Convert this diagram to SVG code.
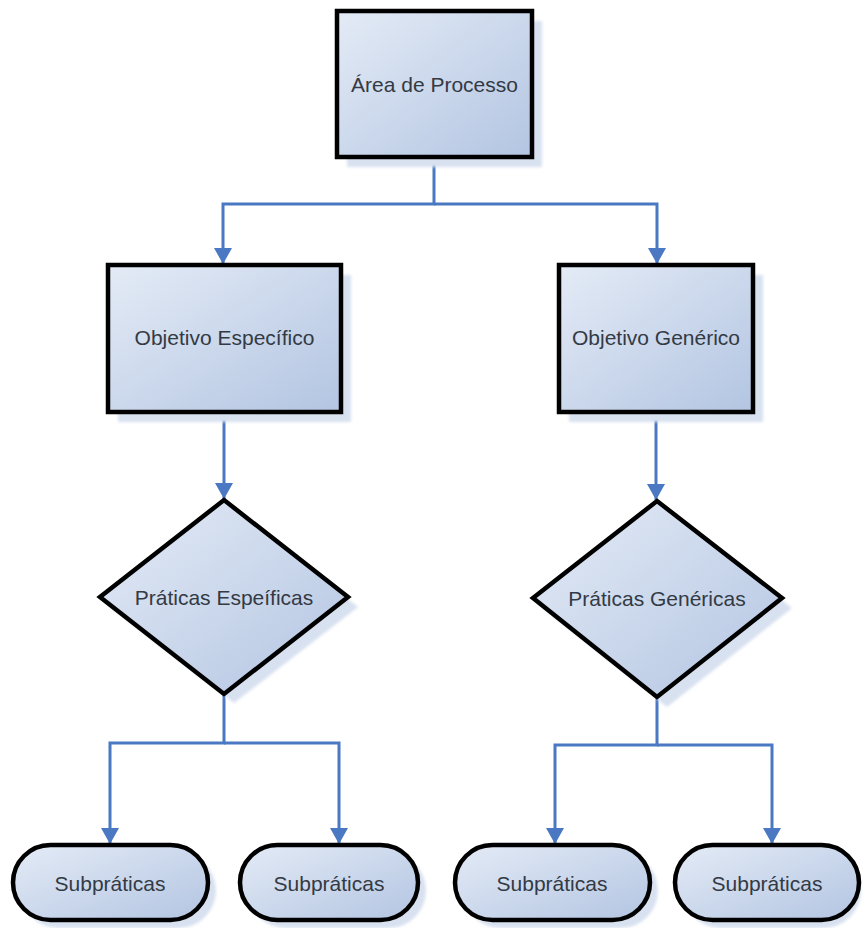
<svg xmlns="http://www.w3.org/2000/svg" width="863" height="928" viewBox="0 0 863 928">
  <style>
    .shadow { fill: #d8e1f0; stroke: none; filter: url(#soft); }
    .shape { fill: url(#fillGrad); stroke: #000; stroke-width: 4.5; stroke-linejoin: miter; }
    .pill { fill: url(#fillGrad); stroke: #000; stroke-width: 4.5; }
    .label { font-family: "Liberation Sans", Arial, sans-serif; font-size: 21px; fill: #333a44; text-anchor: middle; dominant-baseline: central; }
    .conn { fill: none; stroke: #4a78c2; stroke-width: 3; stroke-linejoin: miter; marker-end: url(#arrow); }
  </style>
  <defs>
    <linearGradient id="fillGrad" x1="0" y1="0" x2="1" y2="1">
      <stop offset="0" stop-color="#e4ebf6"/>
      <stop offset="1" stop-color="#b3c5e2"/>
    </linearGradient>
    <filter id="soft" x="-10%" y="-10%" width="120%" height="120%">
      <feGaussianBlur stdDeviation="1.5"/>
    </filter>
    <marker id="arrow" viewBox="0 0 16 18" refX="16" refY="9" markerWidth="16" markerHeight="18" markerUnits="userSpaceOnUse" orient="auto">
      <path d="M0 0 L16 9 L0 18 Z" fill="#4a78c2"/>
    </marker>
  </defs>

  <rect width="863" height="928" fill="#fff"/>

  <!-- connectors -->
  <g id="connectors">
    <path class="conn" d="M434 157 V204 H223 V264"/>
    <path class="conn" d="M434 204 H657 V264"/>
    <path class="conn" d="M224 412 V499"/>
    <path class="conn" d="M656 412 V500"/>
    <path class="conn" d="M224 695 V743 H110 V844"/>
    <path class="conn" d="M224 743 H339 V844"/>
    <path class="conn" d="M657 697 V745 H555 V844"/>
    <path class="conn" d="M657 745 H772 V844"/>
  </g>

  <!-- process area -->
  <g id="area-processo">
    <rect class="shadow" x="347" y="21" width="195" height="146"/>
    <rect class="shape" x="337" y="11" width="195" height="146"/>
    <text class="label" x="434.5" y="84">Área de Processo</text>
  </g>

  <!-- goals -->
  <g id="objetivo-especifico">
    <rect class="shadow" x="118" y="275" width="233" height="147"/>
    <rect class="shape" x="108" y="265" width="233" height="147"/>
    <text class="label" x="224.5" y="337">Objetivo Específico</text>
  </g>
  <g id="objetivo-generico">
    <rect class="shadow" x="569" y="275" width="194" height="147"/>
    <rect class="shape" x="559" y="265" width="194" height="147"/>
    <text class="label" x="656" y="337">Objetivo Genérico</text>
  </g>

  <!-- practices -->
  <g id="praticas-especificas">
    <polygon class="shadow" points="234,510 358,607 234,703 110,607"/>
    <polygon class="shape" points="224,500 348,597 224,694 100,597"/>
    <text class="label" x="224" y="597">Práticas Espeíficas</text>
  </g>
  <g id="praticas-genericas">
    <polygon class="shadow" points="667,511 792,608 667,707 543,608"/>
    <polygon class="shape" points="657,501 782,598 657,697 533,598"/>
    <text class="label" x="657" y="598">Práticas Genéricas</text>
  </g>

  <!-- subpractices -->
  <g id="subpraticas-1">
    <rect class="shadow" x="21" y="853" width="195" height="75" rx="37.5"/>
    <rect class="pill" x="13" y="845" width="195" height="75" rx="37.5"/>
    <text class="label" x="110" y="883">Subpráticas</text>
  </g>
  <g id="subpraticas-2">
    <rect class="shadow" x="248" y="853" width="178" height="75" rx="37.5"/>
    <rect class="pill" x="240" y="845" width="178" height="75" rx="37.5"/>
    <text class="label" x="329" y="883">Subpráticas</text>
  </g>
  <g id="subpraticas-3">
    <rect class="shadow" x="463" y="853" width="195" height="75" rx="37.5"/>
    <rect class="pill" x="455" y="845" width="195" height="75" rx="37.5"/>
    <text class="label" x="552" y="883">Subpráticas</text>
  </g>
  <g id="subpraticas-4">
    <rect class="shadow" x="683" y="853" width="178" height="75" rx="37.5"/>
    <rect class="pill" x="675" y="845" width="184" height="75" rx="37.5"/>
    <text class="label" x="767" y="883">Subpráticas</text>
  </g>
</svg>
